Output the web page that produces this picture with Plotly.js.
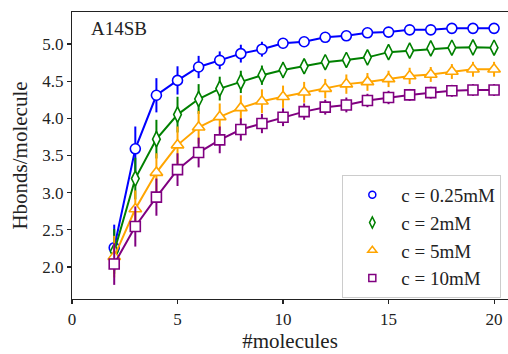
<!DOCTYPE html>
<html>
<head>
<meta charset="utf-8">
<script src="https://cdn.plot.ly/plotly-3.0.1.min.js"></script>
<style>html,body{margin:0;padding:0;background:#fff;}#chart{width:508px;height:354px;}</style>
</head>
<body>
<div id="chart"></div>
<script>
const molecules = [2,3,4,5,6,7,8,9,10,11,12,13,14,15,16,17,18,19,20];

const c025 = [2.26,3.59,4.31,4.51,4.69,4.78,4.87,4.93,5.01,5.03,5.09,5.11,5.15,5.16,5.19,5.19,5.21,5.21,5.21];
const c025Err = [0.31,0.30,0.23,0.19,0.15,0.12,0.12,0.10,0.07,0.06,0.06,0.05,0.05,0.05,0.04,0.04,0.04,0.04,0.04];

const c2 = [2.21,3.19,3.72,4.05,4.26,4.40,4.49,4.58,4.65,4.70,4.755,4.785,4.82,4.89,4.91,4.94,4.95,4.955,4.95];
const c2Err = [0.30,0.28,0.26,0.24,0.20,0.16,0.15,0.13,0.11,0.10,0.09,0.09,0.08,0.08,0.08,0.07,0.07,0.07,0.07];

const c5 = [2.14,2.78,3.27,3.64,3.88,4.02,4.14,4.23,4.29,4.35,4.40,4.46,4.49,4.53,4.57,4.59,4.63,4.66,4.66];
const c5Err = [0.28,0.25,0.26,0.25,0.22,0.18,0.17,0.16,0.15,0.14,0.13,0.13,0.12,0.11,0.11,0.10,0.10,0.10,0.10];

const c10 = [2.04,2.545,2.94,3.31,3.54,3.71,3.85,3.93,4.015,4.09,4.15,4.18,4.24,4.28,4.315,4.345,4.37,4.38,4.38];
const c10Err = [0.28,0.27,0.25,0.22,0.20,0.18,0.15,0.13,0.12,0.11,0.10,0.10,0.09,0.09,0.08,0.08,0.08,0.08,0.08];

const seriesNames = ['c = 0.25mM','c = 2mM','c = 5mM','c = 10mM'];
const seriesY = [c025,c2,c5,c10];
const seriesErr = [c025Err,c2Err,c5Err,c10Err];
const seriesColors = ['#0000ff','#008000','#ffa500','#800080'];
const seriesSymbols = ['circle','diamond-tall','triangle-up','square'];
const seriesSizes = [10,11,11,10];

const xTicks = [0,5,10,15,20];
const yTicks = [2.0,2.5,3.0,3.5,4.0,4.5,5.0];
const yTickText = ['2.0','2.5','3.0','3.5','4.0','4.5','5.0'];

const FONT = 'Liberation Serif, DejaVu Serif, serif';

const traces = [];
for (let i = 0; i < seriesY.length; i++) {
  traces.push({
    x: molecules, y: seriesY[i], type: 'scatter', mode: 'lines+markers',
    showlegend: false,
    line: {color: seriesColors[i], width: 2},
    marker: {symbol: seriesSymbols[i], size: seriesSizes[i], color: '#ffffff',
             line: {color: seriesColors[i], width: 1.6}},
    error_y: {type: 'data', array: seriesErr[i], visible: true, color: seriesColors[i], thickness: 2, width: 0}
  });
}
// legend entries (marker only)
for (let i = 0; i < seriesY.length; i++) {
  traces.push({
    x: [null], y: [null], type: 'scatter', mode: 'markers', name: seriesNames[i],
    marker: {symbol: seriesSymbols[i], size: seriesSizes[i] - 3, color: '#ffffff',
             line: {color: seriesColors[i], width: 1.5}}
  });
}

const layout = {
  width: 508, height: 354,
  margin: {l: 72, r: 0, t: 12, b: 55},
  paper_bgcolor: '#ffffff', plot_bgcolor: '#ffffff',
  font: {family: FONT, size: 17, color: '#222'},
  showlegend: true,
  legend: {
    x: 0.62, y: 0.432, xanchor: 'left', yanchor: 'top',
    bgcolor: '#ffffff', bordercolor: '#cccccc', borderwidth: 1,
    font: {family: FONT, size: 19, color: '#222'},
    itemwidth: 48, itemsizing: 'trace', tracegroupgap: 0
  },
  xaxis: {
    range: [0, 20.66], tickvals: xTicks, ticktext: xTicks.map(String),
    showgrid: false, zeroline: false, showline: true, mirror: true,
    linecolor: '#222', linewidth: 1.2, ticks: 'outside', ticklen: 4, tickwidth: 1.1, tickcolor: '#222',
    tickfont: {family: FONT, size: 17, color: '#222'},
    title: {text: '#molecules', font: {family: FONT, size: 21, color: '#222'}, standoff: 4}
  },
  yaxis: {
    range: [1.57, 5.43], tickvals: yTicks, ticktext: yTickText,
    showgrid: false, zeroline: false, showline: true, mirror: false,
    linecolor: '#222', linewidth: 1.2, ticks: 'outside', ticklen: 4, tickwidth: 1.1, tickcolor: '#222',
    tickfont: {family: FONT, size: 17, color: '#222'},
    title: {text: 'Hbonds/molecule', font: {family: FONT, size: 21, color: '#222'}, standoff: 8}
  },
  annotations: [{
    text: 'A14SB', xref: 'paper', yref: 'paper', x: 0.04, y: 0.985,
    xanchor: 'left', yanchor: 'top', showarrow: false,
    font: {family: FONT, size: 19, color: '#222'}
  }]
};

Plotly.newPlot('chart', traces, layout, {displayModeBar: false, staticPlot: true});
</script>
</body>
</html>
